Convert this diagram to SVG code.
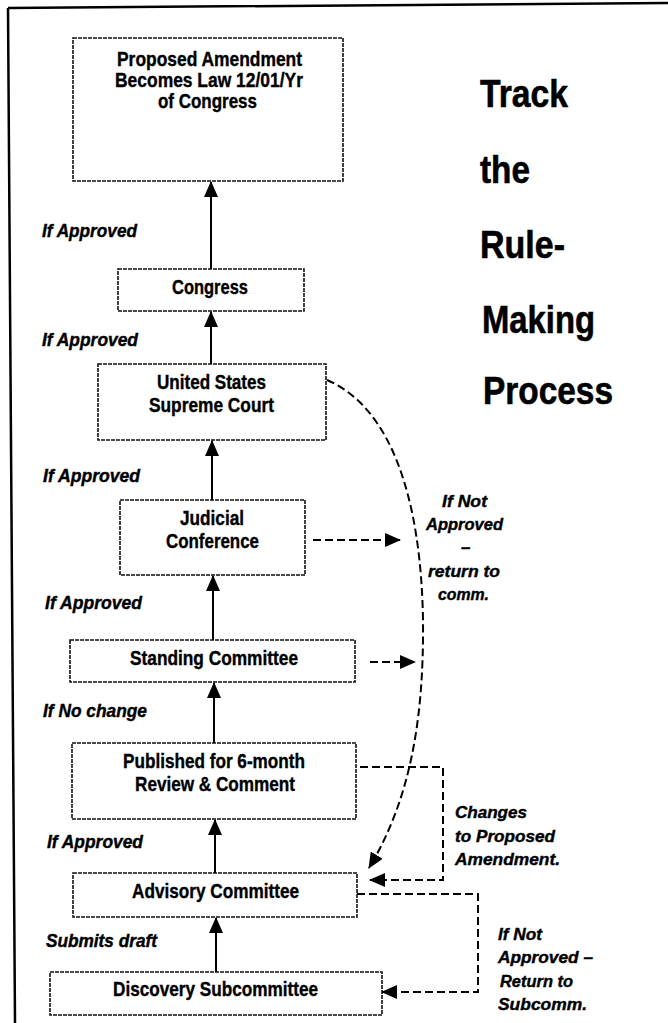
<svg xmlns="http://www.w3.org/2000/svg" width="668" height="1023" viewBox="0 0 668 1023">
<style>
.box{fill:#fff;stroke:#111;stroke-width:1.6;stroke-dasharray:4 1}
.nt{font-family:"Liberation Sans",Arial,sans-serif;font-weight:bold;font-size:21px;fill:#000;stroke:#000;stroke-width:0.4}
.nt1{font-size:21px}
.lbl{font-family:"Liberation Sans",Arial,sans-serif;font-weight:bold;font-style:italic;font-size:18px;fill:#000;stroke:#000;stroke-width:0.4}
.rl{font-size:17px}
.title{font-family:"Liberation Sans",Arial,sans-serif;font-weight:bold;font-size:39px;fill:#000;stroke:#000;stroke-width:0.6}
.solid{stroke:#000;stroke-width:2;fill:none}
.dash{stroke:#000;stroke-width:2;fill:none;stroke-dasharray:8 4}
.frame{stroke:#000;stroke-width:2.5;fill:none}
</style>
<defs>
<marker id="ah" markerUnits="userSpaceOnUse" markerWidth="16" markerHeight="14" refX="15" refY="7" orient="auto">
<path d="M0,0 L16,7 L0,14 Z" fill="#000"/>
</marker>
</defs>
<rect width="668" height="1023" fill="#fff"/>
<path class="frame" d="M8,8 L668,3 M8,8 L15,1023"/>

<g id="title">
<text class="title" x="480" y="107" textLength="88" lengthAdjust="spacingAndGlyphs">Track</text>
<text class="title" x="480" y="183" textLength="50" lengthAdjust="spacingAndGlyphs">the</text>
<text class="title" x="480" y="258" textLength="85" lengthAdjust="spacingAndGlyphs">Rule-</text>
<text class="title" x="482" y="333" textLength="113" lengthAdjust="spacingAndGlyphs">Making</text>
<text class="title" x="483" y="404" textLength="130" lengthAdjust="spacingAndGlyphs">Process</text>
</g>

<g id="node-law">
<rect class="box" x="73" y="38" width="270" height="143"/>
<text class="nt nt1" x="117" y="66" textLength="185" lengthAdjust="spacingAndGlyphs">Proposed Amendment</text>
<text class="nt nt1" x="115" y="87" textLength="188" lengthAdjust="spacingAndGlyphs">Becomes Law 12/01/Yr</text>
<text class="nt nt1" x="158" y="108" textLength="99" lengthAdjust="spacingAndGlyphs">of Congress</text>
</g>
<g id="node-congress">
<rect class="box" x="118" y="269" width="186" height="42"/>
<text class="nt" x="172" y="294" textLength="76" lengthAdjust="spacingAndGlyphs">Congress</text>
</g>
<g id="node-supreme">
<rect class="box" x="98" y="364" width="228" height="76"/>
<text class="nt" x="157" y="389" textLength="109" lengthAdjust="spacingAndGlyphs">United States</text>
<text class="nt" x="149" y="412" textLength="125" lengthAdjust="spacingAndGlyphs">Supreme Court</text>
</g>
<g id="node-judicial">
<rect class="box" x="120" y="500" width="185" height="75"/>
<text class="nt" x="180" y="525" textLength="64" lengthAdjust="spacingAndGlyphs">Judicial</text>
<text class="nt" x="166" y="548" textLength="93" lengthAdjust="spacingAndGlyphs">Conference</text>
</g>
<g id="node-standing">
<rect class="box" x="70" y="640" width="285" height="42"/>
<text class="nt" x="130" y="665" textLength="168" lengthAdjust="spacingAndGlyphs">Standing Committee</text>
</g>
<g id="node-published">
<rect class="box" x="72" y="743" width="284" height="76"/>
<text class="nt" x="123" y="768" textLength="182" lengthAdjust="spacingAndGlyphs">Published for 6-month</text>
<text class="nt" x="135" y="791" textLength="160" lengthAdjust="spacingAndGlyphs">Review &amp; Comment</text>
</g>
<g id="node-advisory">
<rect class="box" x="73" y="873" width="284" height="44"/>
<text class="nt" x="132" y="898" textLength="167" lengthAdjust="spacingAndGlyphs">Advisory Committee</text>
</g>
<g id="node-discovery">
<rect class="box" x="50" y="972" width="332" height="43"/>
<text class="nt" x="113" y="996" textLength="205" lengthAdjust="spacingAndGlyphs">Discovery Subcommittee</text>
</g>

<g id="connectors">
<path class="solid" marker-end="url(#ah)" d="M211,269 L211,182"/>
<path class="solid" marker-end="url(#ah)" d="M211,364 L211,312"/>
<path class="solid" marker-end="url(#ah)" d="M212,500 L212,441"/>
<path class="solid" marker-end="url(#ah)" d="M213,640 L213,576"/>
<path class="solid" marker-end="url(#ah)" d="M214,743 L214,683"/>
<path class="solid" marker-end="url(#ah)" d="M215,873 L215,820"/>
<path class="solid" marker-end="url(#ah)" d="M216,972 L216,918"/>
<path class="dash" marker-end="url(#ah)" d="M327,380 C392,408 421,500 423,620 C424,720 410,800 369,868"/>
<path class="dash" marker-end="url(#ah)" d="M313,540 L400,540"/>
<path class="dash" marker-end="url(#ah)" d="M370,662 L415,662"/>
<path class="dash" marker-end="url(#ah)" d="M360,767 L443,767 L443,880 L370,880"/>
<path class="dash" marker-end="url(#ah)" d="M357,894 L478,894 L478,992 L382,992"/>
</g>

<g id="labels">
<text class="lbl" x="42" y="237" textLength="95" lengthAdjust="spacingAndGlyphs">If Approved</text>
<text class="lbl" x="42" y="346" textLength="96" lengthAdjust="spacingAndGlyphs">If Approved</text>
<text class="lbl" x="43" y="482" textLength="97" lengthAdjust="spacingAndGlyphs">If Approved</text>
<text class="lbl" x="45" y="609" textLength="97" lengthAdjust="spacingAndGlyphs">If Approved</text>
<text class="lbl" x="43" y="717" textLength="104" lengthAdjust="spacingAndGlyphs">If No change</text>
<text class="lbl" x="47" y="848" textLength="96" lengthAdjust="spacingAndGlyphs">If Approved</text>
<text class="lbl" x="46" y="947" textLength="111" lengthAdjust="spacingAndGlyphs">Submits draft</text>

<text class="lbl rl" x="442" y="507" textLength="45" lengthAdjust="spacingAndGlyphs">If Not</text>
<text class="lbl rl" x="426" y="530" textLength="77" lengthAdjust="spacingAndGlyphs">Approved</text>
<text class="lbl rl" x="461" y="553">–</text>
<text class="lbl rl" x="428" y="577" textLength="72" lengthAdjust="spacingAndGlyphs">return to</text>
<text class="lbl rl" x="438" y="600" textLength="51" lengthAdjust="spacingAndGlyphs">comm.</text>

<text class="lbl rl" x="455" y="818" textLength="72" lengthAdjust="spacingAndGlyphs">Changes</text>
<text class="lbl rl" x="455" y="842" textLength="100" lengthAdjust="spacingAndGlyphs">to Proposed</text>
<text class="lbl rl" x="455" y="865" textLength="105" lengthAdjust="spacingAndGlyphs">Amendment.</text>

<text class="lbl rl" x="498" y="940" textLength="44" lengthAdjust="spacingAndGlyphs">If Not</text>
<text class="lbl rl" x="498" y="963" textLength="95" lengthAdjust="spacingAndGlyphs">Approved –</text>
<text class="lbl rl" x="500" y="987" textLength="73" lengthAdjust="spacingAndGlyphs">Return to</text>
<text class="lbl rl" x="498" y="1010" textLength="89" lengthAdjust="spacingAndGlyphs">Subcomm.</text>
</g>
</svg>
